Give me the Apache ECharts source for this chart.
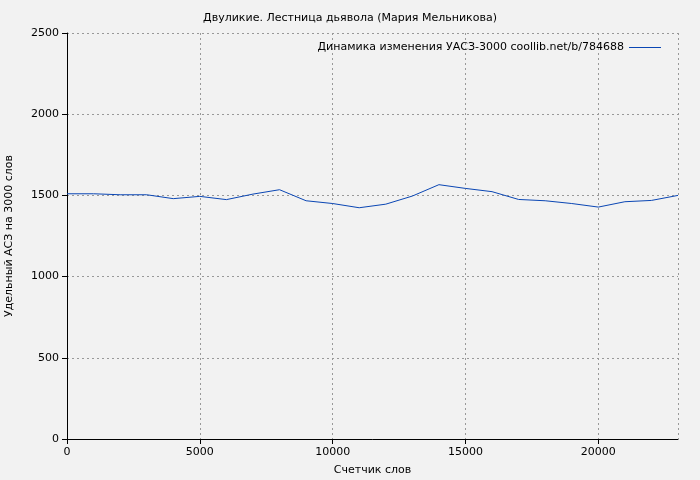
<!DOCTYPE html><html><head><meta charset="utf-8"><script src="https://cdn.jsdelivr.net/npm/echarts@6/dist/echarts.min.js"></script>
<style>body{margin:0;background:#f2f2f2}#c{width:700px;height:480px}</style></head><body><div id="c"></div><script>
const xs=[0,1000,2000,3000,4000,5000,6000,7000,8000,9000,10000,11000,12000,13000,14000,15000,16000,17000,18000,19000,20000,21000,22000,23000];
const ys=[1510,1510,1504,1504,1480,1494,1474,1508,1535,1467,1450,1424,1446,1496,1566,1543,1523,1475,1467,1450,1428,1461,1469,1500];
const title='Двуликие. Лестница дьявола (Мария Мельникова)';
const seriesName='Динамика изменения УАСЗ-3000 coollib.net/b/784688';
const c=echarts.init(document.getElementById('c'));
const ax={color:'#000',fontSize:11,fontFamily:'DejaVu Sans'};
c.setOption({backgroundColor:'#f2f2f2',animation:false,
title:{text:title,left:'center',top:8,textStyle:{fontSize:11,fontWeight:'normal',color:'#000',fontFamily:'DejaVu Sans'}},
legend:{right:34,top:37,itemWidth:32,itemHeight:1,icon:'rect',align:'right',textStyle:ax,data:[seriesName]},
grid:{left:67,right:22,top:33,bottom:41,outerBoundsMode:'none',containLabel:false},
xAxis:{type:'value',min:0,max:23000,interval:5000,name:'Счетчик слов',nameLocation:'middle',nameGap:26,nameTextStyle:ax,
axisLine:{lineStyle:{color:'#000'}},axisTick:{lineStyle:{color:'#000'}},axisLabel:Object.assign({showMaxLabel:false,formatter:v=>String(v)},ax),
splitLine:{lineStyle:{color:'#999',type:[2,3]}}},
yAxis:{type:'value',min:0,max:2500,interval:500,name:'Удельный АСЗ на 3000 слов',nameLocation:'middle',nameGap:52,nameTextStyle:ax,
axisLine:{show:true,lineStyle:{color:'#000'}},axisTick:{show:true,lineStyle:{color:'#000'}},axisLabel:Object.assign({formatter:v=>String(v)},ax),
splitLine:{lineStyle:{color:'#999',type:[2,3]}}},
series:[{name:seriesName,type:'line',data:xs.map((x,i)=>[x,ys[i]]),showSymbol:false,lineStyle:{color:'#0a46b4',width:1},itemStyle:{color:'#0a46b4'}}]});
</script></body></html>
